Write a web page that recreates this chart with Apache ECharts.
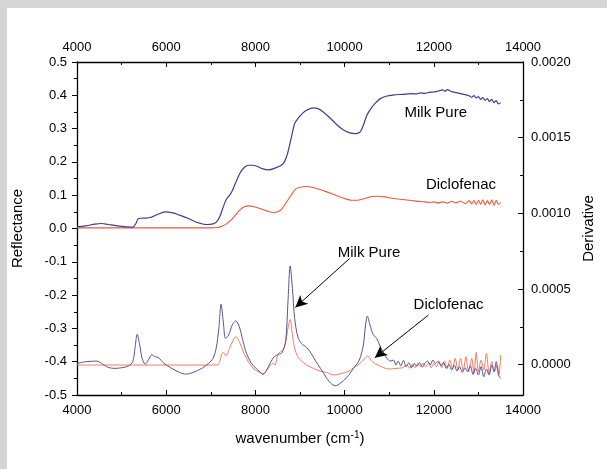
<!DOCTYPE html>
<html><head><meta charset="utf-8">
<script src="https://cdn.jsdelivr.net/npm/echarts@6/dist/echarts.min.js"></script>
<style>html,body{margin:0;padding:0;background:#d4d5d7}#c{width:607px;height:469px}</style>
</head><body><div id="c"></div>
<script>
// ---- axis ticks ----
const xTicks = [4000, 6000, 8000, 10000, 12000, 14000];
const leftRange = [-0.5, 0.5];
const leftStep = 0.1;
const rightRange = [-0.0002, 0.0020];
const rightTickValues = [0, 0.0005, 0.0010, 0.0015, 0.0020];
const rightMinorValues = [0.00025, 0.00075, 0.00125, 0.00175];

// ---- reflectance (left axis) ----
const milkReflectance = [
[4000,0.005],[4200,0.008],[4400,0.013],[4550,0.015],[4700,0.012],[4900,0.008],[5100,0.005],[5250,0.004],
[5320,0.015],[5380,0.030],[5500,0.031],[5650,0.033],[5800,0.042],[5980,0.050],[6150,0.047],[6300,0.040],
[6500,0.030],[6700,0.018],[6900,0.012],[7050,0.014],[7130,0.020],[7200,0.035],[7280,0.065],[7350,0.088],
[7450,0.105],[7550,0.135],[7650,0.165],[7750,0.183],[7850,0.190],[7950,0.190],[8050,0.186],[8150,0.180],
[8300,0.176],[8450,0.182],[8580,0.190],[8650,0.200],[8720,0.225],[8800,0.270],[8880,0.315],[8950,0.330],
[9050,0.345],[9150,0.355],[9300,0.362],[9400,0.360],[9500,0.352],[9650,0.335],[9800,0.315],[9950,0.298],
[10100,0.288],[10250,0.285],[10350,0.290],[10420,0.310],[10500,0.340],[10600,0.362],[10700,0.378],[10800,0.390],
[10950,0.398],[11100,0.401],[11300,0.403],[11500,0.405],[11600,0.404],[11700,0.407],[11800,0.406],[11900,0.409],
[12000,0.410],[12100,0.413],[12200,0.416],[12250,0.412],[12300,0.417],[12400,0.411],[12500,0.408],[12600,0.405],
[12700,0.402],[12800,0.398],[12850,0.394],[12900,0.399],[12950,0.392],[13000,0.396],[13050,0.388],[13100,0.393],
[13150,0.385],[13200,0.390],[13250,0.381],[13300,0.388],[13350,0.378],[13400,0.384],[13450,0.374],[13500,0.378]
];
const diclofenacReflectance = [
[4000,0.002],[5000,0.002],[6000,0.002],[7000,0.002],[7150,0.003],[7250,0.007],[7350,0.014],[7450,0.025],
[7550,0.040],[7650,0.055],[7750,0.065],[7850,0.068],[7950,0.066],[8100,0.060],[8250,0.053],[8400,0.048],
[8500,0.050],[8600,0.060],[8700,0.080],[8800,0.100],[8900,0.118],[9000,0.124],[9150,0.126],[9300,0.123],
[9450,0.117],[9600,0.110],[9800,0.100],[10000,0.090],[10150,0.085],[10300,0.085],[10450,0.090],[10600,0.096],
[10750,0.097],[10900,0.095],[11100,0.090],[11300,0.087],[11500,0.084],[11700,0.081],[11800,0.080],[11900,0.078],
[12000,0.080],[12100,0.077],[12200,0.080],[12300,0.076],[12400,0.081],[12500,0.077],[12600,0.082],[12700,0.075],
[12800,0.083],[12850,0.074],[12900,0.084],[12950,0.072],[13000,0.085],[13050,0.073],[13100,0.086],[13150,0.071],
[13200,0.084],[13250,0.072],[13300,0.086],[13350,0.070],[13400,0.085],[13450,0.073],[13500,0.078]
];

// ---- derivative (right axis) ----
const milkDerivative = [
[4000,0.09e-4],[4200,0.20e-4],[4450,0.24e-4],[4550,0.09e-4],[4700,-0.18e-4],[4850,-0.24e-4],[5000,-0.20e-4],[5150,-0.09e-4],
[5250,0.20e-4],[5300,1.08e-4],[5350,2.02e-4],[5400,1.41e-4],[5460,0.42e-4],[5530,0.04e-4],[5600,0.31e-4],[5680,0.66e-4],
[5750,0.53e-4],[5830,0.46e-4],[5950,0.09e-4],[6100,-0.20e-4],[6300,-0.51e-4],[6450,-0.62e-4],[6600,-0.51e-4],[6800,-0.24e-4],
[6950,0.09e-4],[7050,0.42e-4],[7120,1.08e-4],[7180,2.40e-4],[7230,4.00e-4],[7280,2.84e-4],[7330,1.74e-4],[7400,1.96e-4],
[7480,2.62e-4],[7560,2.90e-4],[7640,2.51e-4],[7720,1.58e-4],[7800,0.75e-4],[7900,0.15e-4],[8000,-0.20e-4],[8100,-0.46e-4],
[8170,-0.62e-4],[8250,-0.35e-4],[8330,0.09e-4],[8420,0.53e-4],[8520,0.68e-4],[8600,0.81e-4],[8680,1.58e-4],[8730,4.16e-4],
[8780,6.53e-4],[8830,5.04e-4],[8880,3.06e-4],[8950,1.85e-4],[9030,1.41e-4],[9150,1.14e-4],[9250,0.75e-4],[9350,0.24e-4],
[9460,-0.24e-4],[9600,-0.90e-4],[9720,-1.30e-4],[9800,-1.39e-4],[9900,-1.23e-4],[10050,-0.84e-4],[10200,-0.24e-4],[10330,0.31e-4],
[10420,1.30e-4],[10470,2.62e-4],[10510,3.21e-4],[10570,2.62e-4],[10640,2.00e-4],[10720,1.74e-4],[10800,1.19e-4],[10880,0.75e-4],
[10950,0.42e-4],[11020,0.24e-4],[11100,0.31e-4],[11150,-0.02e-4],[11200,0.24e-4],[11260,-0.07e-4],[11320,0.29e-4],[11380,-0.13e-4],
[11440,0.13e-4],[11500,-0.20e-4],[11560,0.09e-4],[11620,-0.11e-4],[11680,0.15e-4],[11740,-0.15e-4],[11800,0.11e-4],[11860,0.24e-4],
[11920,-0.02e-4],[11980,0.31e-4],[12040,0.09e-4],[12100,0.24e-4],[12160,-0.07e-4],[12220,0.15e-4],[12280,-0.24e-4],[12340,0.02e-4],
[12400,-0.35e-4],[12460,-0.02e-4],[12520,-0.42e-4],[12580,-0.13e-4],[12640,-0.51e-4],[12700,-0.20e-4],[12760,-0.46e-4],[12820,-0.07e-4],
[12880,-0.64e-4],[12940,-0.24e-4],[13000,-0.68e-4],[13060,-0.13e-4],[13120,-0.79e-4],[13180,-0.29e-4],[13240,-0.68e-4],[13300,-0.02e-4],
[13350,-0.46e-4],[13400,0.20e-4],[13450,-0.68e-4],[13500,-0.90e-4]
];
const diclofenacDerivative = [
[4000,-0.02e-4],[5000,-0.02e-4],[6000,-0.02e-4],[7000,-0.02e-4],[7150,-0.02e-4],[7200,0.20e-4],[7250,0.75e-4],[7290,0.81e-4],
[7340,0.59e-4],[7420,1.08e-4],[7500,1.63e-4],[7560,1.85e-4],[7640,1.52e-4],[7720,0.92e-4],[7800,0.42e-4],[7900,-0.07e-4],
[8000,-0.35e-4],[8100,-0.53e-4],[8180,-0.62e-4],[8260,-0.35e-4],[8330,-0.07e-4],[8400,0.09e-4],[8440,-0.02e-4],[8500,0.64e-4],
[8560,0.86e-4],[8620,0.97e-4],[8680,1.52e-4],[8730,2.40e-4],[8780,2.99e-4],[8830,1.96e-4],[8880,1.08e-4],[8950,0.53e-4],
[9030,0.26e-4],[9150,-0.02e-4],[9300,-0.24e-4],[9450,-0.42e-4],[9600,-0.51e-4],[9750,-0.68e-4],[9850,-0.64e-4],[9950,-0.57e-4],
[10100,-0.42e-4],[10200,-0.20e-4],[10300,-0.02e-4],[10400,0.26e-4],[10460,0.42e-4],[10510,0.59e-4],[10560,0.42e-4],[10640,0.15e-4],
[10750,-0.02e-4],[10880,-0.20e-4],[11000,-0.29e-4],[11150,-0.24e-4],[11300,-0.20e-4],[11400,-0.02e-4],[11460,-0.24e-4],[11520,0.02e-4],
[11580,-0.20e-4],[11640,0.07e-4],[11700,-0.13e-4],[11760,0.11e-4],[11820,-0.15e-4],[11880,0.15e-4],[11940,-0.20e-4],[12000,0.09e-4],
[12060,-0.13e-4],[12120,0.20e-4],[12180,-0.20e-4],[12240,0.24e-4],[12300,-0.24e-4],[12360,0.31e-4],[12420,-0.29e-4],[12480,0.42e-4],
[12540,-0.35e-4],[12600,0.42e-4],[12660,-0.42e-4],[12720,0.53e-4],[12780,-0.46e-4],[12850,0.42e-4],[12900,-0.57e-4],[12950,0.81e-4],
[13000,-0.46e-4],[13060,0.31e-4],[13120,-0.35e-4],[13180,0.75e-4],[13240,-0.57e-4],[13300,0.20e-4],[13360,-0.46e-4],[13420,-0.02e-4],
[13460,-0.68e-4],[13500,0.64e-4]
];

// ---- annotations (data coordinates, left axis) ----
const labelTexts = ['Milk Pure', 'Diclofenac', 'Milk Pure', 'Diclofenac'];
const labelCoords = [[12044, 0.347], [12609, 0.130], [10548, -0.073], [12331, -0.230]];
const arrowStarts = [[10113, -0.090], [11878, -0.260]];
const arrowEnds = [[8896, -0.237], [10679, -0.388]];

const FONT = "'Liberation Sans', Arial, sans-serif";
const chart = echarts.init(document.getElementById('c'), null, {renderer: 'canvas'});

const baseX = {
  type: 'value', min: xTicks[0], max: xTicks[xTicks.length - 1], interval: xTicks[1] - xTicks[0],
  axisLine: {show: true, onZero: false, lineStyle: {color: '#000', width: 1.3}},
  axisTick: {show: true, inside: true, length: 5, lineStyle: {color: '#000', width: 1}},
  minorTick: {show: true, splitNumber: 2, length: 3, lineStyle: {color: '#000', width: 1}},
  splitLine: {show: false},
  axisLabel: {color: '#000', fontSize: 13, fontFamily: FONT, margin: 9, formatter: v => String(v)}
};

chart.setOption({
  animation: false,
  backgroundColor: '#d4d5d7',
  textStyle: {fontFamily: FONT},
  graphic: [{type: 'rect', left: 7, top: 8, shape: {width: 600, height: 461}, style: {fill: '#fff'}, z: -10, silent: true}],
  grid: {left: 77, right: 84, top: 62, bottom: 74, containLabel: false, outerBoundsMode: 'none'},
  xAxis: [
    Object.assign({}, baseX, {
      position: 'bottom',
      name: 'wavenumber (cm{sup|-1})', nameLocation: 'middle', nameGap: 35,
      nameTextStyle: {color: '#000', fontSize: 15, fontFamily: FONT,
        rich: {sup: {fontSize: 10, fontFamily: FONT, color: '#000', padding: [0, 0, 8, 0]}}}
    }),
    Object.assign({}, baseX, {position: 'top', axisLabel: Object.assign({}, baseX.axisLabel, {margin: 8})})
  ],
  yAxis: [
    {
      type: 'value', position: 'left', min: leftRange[0], max: leftRange[1], interval: leftStep,
      axisLine: {show: true, onZero: false, lineStyle: {color: '#000', width: 1.3}},
      axisTick: {show: true, inside: false, length: 5, lineStyle: {color: '#000', width: 1}},
      minorTick: {show: true, splitNumber: 2, length: 3, lineStyle: {color: '#000', width: 1}},
      splitLine: {show: false},
      axisLabel: {color: '#000', fontSize: 13, fontFamily: FONT, margin: 10,
        formatter: v => (Math.abs(v) < 1e-9 ? 0 : v).toFixed(1)},
      name: 'Reflectance', nameLocation: 'middle', nameGap: 52, nameRotate: 90,
      nameTextStyle: {color: '#000', fontSize: 15, fontFamily: FONT}
    },
    {
      type: 'value', position: 'right', min: rightRange[0], max: rightRange[1],
      axisLine: {show: true, onZero: false, lineStyle: {color: '#000', width: 1.3}},
      axisTick: {show: true, inside: true, length: 5, customValues: rightTickValues, lineStyle: {color: '#000', width: 1}},
      splitLine: {show: false},
      axisLabel: {color: '#000', fontSize: 13, fontFamily: FONT, margin: 8, customValues: rightTickValues,
        formatter: v => (Math.abs(v) < 1e-12 ? 0 : v).toFixed(4)},
      name: 'Derivative', nameLocation: 'middle', nameGap: 52, nameRotate: 90,
      nameTextStyle: {color: '#000', fontSize: 15, fontFamily: FONT}
    },
    {
      type: 'value', position: 'right', min: rightRange[0], max: rightRange[1],
      axisLine: {show: false, onZero: false},
      axisTick: {show: true, inside: true, length: 3, customValues: rightMinorValues, lineStyle: {color: '#000', width: 1}},
      splitLine: {show: false},
      axisLabel: {show: false}
    }
  ],
  series: [
    {
      name: 'Milk Pure', type: 'line', xAxisIndex: 0, yAxisIndex: 0, data: milkReflectance,
      showSymbol: false, smooth: 0.3, lineStyle: {color: '#3d3d8f', width: 1.2}, z: 3,
      markPoint: {
        symbol: 'circle', symbolSize: 0, silent: true,
        label: {show: true, position: 'inside', color: '#000', fontSize: 15, fontFamily: FONT},
        data: labelTexts.map((t, i) => ({coord: labelCoords[i], value: t, label: {formatter: t}}))
      },
      markLine: {
        silent: true, symbol: ['none', 'arrow'], symbolSize: [9, 12],
        label: {show: false},
        lineStyle: {color: '#000', width: 1, type: 'solid'},
        data: arrowStarts.map((s, i) => [{coord: s}, {coord: arrowEnds[i]}])
      }
    },
    {
      name: 'Diclofenac', type: 'line', xAxisIndex: 0, yAxisIndex: 0, data: diclofenacReflectance,
      showSymbol: false, smooth: 0.3, lineStyle: {color: '#f2563c', width: 1.1}, z: 2
    },
    {
      name: 'Milk Pure derivative', type: 'line', xAxisIndex: 0, yAxisIndex: 1, data: milkDerivative,
      showSymbol: false, smooth: 0.3, lineStyle: {color: '#55559a', width: 1}, z: 3
    },
    {
      name: 'Diclofenac derivative', type: 'line', xAxisIndex: 0, yAxisIndex: 1, data: diclofenacDerivative,
      showSymbol: false, smooth: 0.3, lineStyle: {color: '#f47a62', width: 1}, z: 2
    }
  ]
});
</script></body></html>
